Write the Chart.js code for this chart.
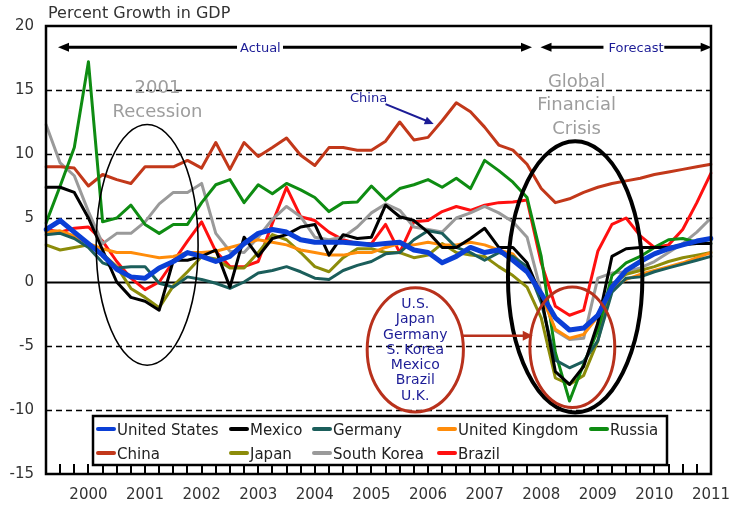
<!DOCTYPE html>
<html>
<head>
<meta charset="utf-8">
<script src="https://cdn.jsdelivr.net/npm/chart.js@4.4.1/dist/chart.umd.min.js"></script>
<style>
  body { margin: 0; background: #fff; }
  #wrap { width: 735px; height: 505px; }
</style>
</head>
<body>
<div id="wrap"><canvas id="gdpChart" width="735" height="505"></canvas></div>
<script>
// quarters on the x axis, year label shown on each Q1
const quarters = [
  "1999Q2", "1999Q3", "1999Q4",
  "2000Q1", "2000Q2", "2000Q3", "2000Q4",
  "2001Q1", "2001Q2", "2001Q3", "2001Q4",
  "2002Q1", "2002Q2", "2002Q3", "2002Q4",
  "2003Q1", "2003Q2", "2003Q3", "2003Q4",
  "2004Q1", "2004Q2", "2004Q3", "2004Q4",
  "2005Q1", "2005Q2", "2005Q3", "2005Q4",
  "2006Q1", "2006Q2", "2006Q3", "2006Q4",
  "2007Q1", "2007Q2", "2007Q3", "2007Q4",
  "2008Q1", "2008Q2", "2008Q3", "2008Q4",
  "2009Q1", "2009Q2", "2009Q3", "2009Q4",
  "2010Q1", "2010Q2", "2010Q3", "2010Q4",
  "2011Q1",
];
const yTicks = [-15, -10, -5, 0, 5, 10, 15, 20];

const unitedStates = [4.1, 4.8, 3.9, 3.0, 2.1, 1.0, 0.4, 0.3, 1.1, 1.6, 2.3, 2.0, 1.6, 2.0, 3.0, 3.8, 4.1, 3.9, 3.3, 3.1, 3.1, 3.1, 3.0, 2.9, 3.0, 3.1, 2.5, 2.3, 1.5, 2.0, 2.7, 2.3, 2.5, 1.7, 0.8, -0.9, -2.8, -3.75, -3.6, -2.6, -0.4, 0.9, 1.6, 2.2, 2.6, 2.9, 3.2, 3.4];
const mexico = [7.4, 7.4, 7.0, 5.0, 2.5, 0.0, -1.2, -1.5, -2.2, 1.7, 1.7, 2.0, 2.5, -0.4, 3.5, 2.0, 3.4, 3.7, 4.3, 4.5, 2.1, 3.7, 3.4, 3.5, 6.0, 5.1, 4.8, 3.9, 2.7, 2.7, 3.4, 4.2, 2.7, 2.7, 1.5, -1.1, -7.0, -8.0, -6.6, -3.2, 2.0, 2.6, 2.7, 2.7, 2.7, 2.9, 3.0, 3.0];
const germany = [3.7, 3.8, 3.4, 2.7, 1.5, 1.1, 1.2, 1.2, -0.1, -0.4, 0.4, 0.2, -0.1, -0.5, 0.0, 0.7, 0.9, 1.2, 0.8, 0.3, 0.2, 0.9, 1.3, 1.6, 2.2, 2.3, 3.3, 4.0, 3.8, 2.7, 2.3, 1.7, 2.3, 2.0, 1.2, -1.6, -6.1, -6.7, -6.2, -4.6, -0.8, 0.3, 0.4, 0.8, 1.1, 1.4, 1.7, 2.0];
const unitedKingdom = [3.9, 4.0, 3.6, 3.0, 2.6, 2.3, 2.3, 2.1, 1.9, 2.0, 2.3, 2.3, 2.4, 2.7, 3.0, 3.3, 3.1, 2.9, 2.5, 2.3, 2.1, 2.1, 2.3, 2.3, 2.7, 3.0, 2.9, 3.1, 2.9, 2.9, 3.1, 2.9, 2.5, 2.2, 0.8, -1.0, -3.7, -4.4, -4.1, -2.7, -0.5, 0.2, 0.6, 0.9, 1.2, 1.5, 1.9, 2.3];
const russia = [4.6, 7.5, 10.5, 17.2, 4.7, 5.0, 6.0, 4.5, 3.8, 4.5, 4.5, 6.2, 7.6, 8.0, 6.2, 7.6, 6.9, 7.7, 7.2, 6.6, 5.5, 6.2, 6.25, 7.5, 6.4, 7.3, 7.6, 8.0, 7.4, 8.1, 7.3, 9.5, 8.7, 7.8, 6.6, 2.0, -5.5, -9.3, -6.4, -3.8, 0.5, 1.5, 2.0, 2.7, 3.3, 3.4, 3.1, 3.0];
const china = [9.0, 9.0, 8.9, 7.5, 8.4, 8.0, 7.7, 9.0, 9.0, 9.0, 9.5, 8.9, 10.9, 8.8, 10.9, 9.8, 10.5, 11.25, 9.9, 9.1, 10.5, 10.5, 10.3, 10.3, 11.0, 12.5, 11.1, 11.3, 12.6, 14.0, 13.3, 12.1, 10.7, 10.3, 9.2, 7.3, 6.2, 6.5, 7.0, 7.4, 7.7, 7.9, 8.1, 8.4, 8.6, 8.8, 9.0, 9.2];
const japan = [2.9, 2.5, 2.7, 2.9, 2.2, 1.2, -0.5, -1.2, -2.0, -0.3, 0.8, 2.0, 1.8, 1.1, 1.1, 2.3, 3.7, 3.3, 2.3, 1.2, 0.8, 1.9, 2.6, 2.6, 2.3, 2.3, 1.9, 2.1, 3.0, 2.3, 2.1, 2.0, 1.2, 0.5, -0.4, -2.8, -7.5, -8.0, -7.3, -4.6, -0.2, 0.6, 0.9, 1.2, 1.6, 1.9, 2.1, 2.3];
const southKorea = [12.3, 9.3, 8.3, 5.5, 3.0, 3.8, 3.8, 4.7, 6.1, 7.0, 7.0, 7.7, 3.8, 2.4, 2.3, 3.5, 4.9, 5.9, 5.1, 3.5, 3.3, 3.5, 4.3, 5.4, 6.1, 5.6, 4.3, 4.1, 3.9, 5.0, 5.4, 5.9, 5.4, 4.7, 3.5, -0.8, -3.8, -4.5, -4.4, 0.3, 0.7, 0.8, 1.1, 1.6, 2.3, 3.0, 3.9, 5.0];
const brazil = [4.1, 3.9, 4.2, 4.3, 3.2, 1.6, 0.3, -0.6, 0.0, 1.6, 3.2, 4.7, 2.4, 1.2, 1.2, 1.6, 4.6, 7.4, 5.1, 4.8, 3.9, 3.3, 3.0, 3.0, 4.5, 2.3, 4.7, 4.8, 5.5, 5.9, 5.6, 6.0, 6.2, 6.25, 6.4, 1.5, -1.9, -2.6, -2.2, 2.4, 4.5, 5.0, 3.6, 2.7, 2.9, 4.1, 6.2, 8.5];

const seriesNames = ["United States", "Mexico", "Germany", "United Kingdom", "Russia", "China", "Japan", "South Korea", "Brazil"];
const seriesValues = [unitedStates, mexico, germany, unitedKingdom, russia, china, japan, southKorea, brazil];
const seriesColors = ["#0b3fd6", "#000000", "#1b5e5b", "#ff8c0a", "#0e8c12", "#c2381a", "#8c8c0a", "#9a9a9a", "#ff1010"];

const crisisList = ["U.S.", "Japan", "Germany", "S. Korea", "Mexico", "Brazil", "U.K."];

const FONT = "'DejaVu Sans', Arial, sans-serif";
const NAVY = "#1c1c96";
const RUST = "#b8311c";

function arrowHead(ctx, x, y, dx, dy, len, half) {
  const d = Math.hypot(dx, dy);
  const ux = dx / d, uy = dy / d;
  ctx.beginPath();
  ctx.moveTo(x, y);
  ctx.lineTo(x - ux * len - uy * half, y - uy * len + ux * half);
  ctx.lineTo(x - ux * len + uy * half, y - uy * len - ux * half);
  ctx.closePath();
  ctx.fill();
}

function ellipse(ctx, px, py, cx, cy, rx, ry, width, color) {
  const x0 = px(cx), y0 = py(cy);
  ctx.beginPath();
  ctx.ellipse(x0, y0, Math.abs(px(cx + rx) - x0), Math.abs(py(cy + ry) - y0), 0, 0, Math.PI * 2);
  ctx.lineWidth = width;
  ctx.strokeStyle = color;
  ctx.stroke();
}

const decor = {
  id: "decor",
  beforeDatasetsDraw(chart) {
    const { ctx, chartArea: a, scales: { y } } = chart;
    ctx.save();
    ctx.strokeStyle = "#000";
    y.ticks.forEach((t) => {
      if (t.value <= y.min || t.value >= y.max) return;
      const py = Math.round(y.getPixelForValue(t.value)) + 0.5;
      ctx.beginPath();
      if (t.value === 0) {
        ctx.setLineDash([]);
        ctx.lineWidth = 2;
      } else {
        ctx.setLineDash([6, 4]);
        ctx.lineWidth = 1.5;
      }
      ctx.moveTo(a.left, py);
      ctx.lineTo(a.right, py);
      ctx.stroke();
    });
    ctx.restore();
  },
  afterDatasetsDraw(chart) {
    const { ctx, chartArea: a, scales: { x, y } } = chart;
    const px = (v) => x.getPixelForValue(v);
    const py = (v) => y.getPixelForValue(v);
    ctx.save();

    // title
    ctx.fillStyle = "#333";
    ctx.font = "16px " + FONT;
    ctx.textAlign = "left";
    ctx.textBaseline = "alphabetic";
    ctx.fillText("Percent Growth in GDP", 48, 18);

    // Actual / Forecast arrows
    const ay = py(18.34);
    ctx.strokeStyle = "#000";
    ctx.fillStyle = "#000";
    ctx.lineWidth = 3;
    const segs = [[0.85, 13.5, -1], [16.75, 34.35, 1], [34.95, 39.4, -1], [43.7, 47.05, 1]];
    segs.forEach(([s, e, dir]) => {
      ctx.beginPath();
      ctx.moveTo(px(s) + (dir < 0 ? 8 : 0), ay);
      ctx.lineTo(px(e) - (dir > 0 ? 8 : 0), ay);
      ctx.stroke();
      if (dir < 0) arrowHead(ctx, px(s), ay, -1, 0, 11, 4.5);
      else arrowHead(ctx, px(e), ay, 1, 0, 11, 4.5);
    });
    ctx.fillStyle = NAVY;
    ctx.font = "13px " + FONT;
    ctx.textAlign = "center";
    ctx.fillText("Actual", px(15.15), py(18.0));
    ctx.fillText("Forecast", px(41.7), py(18.0));

    // gray event labels
    ctx.fillStyle = "#9d9d9d";
    ctx.font = "18px " + FONT;
    ctx.fillText("2001", px(7.88), py(14.77));
    ctx.fillText("Recession", px(7.88), py(12.89));
    ctx.fillText("Global", px(37.5), py(15.26));
    ctx.fillText("Financial", px(37.5), py(13.44));
    ctx.fillText("Crisis", px(37.5), py(11.56));

    // China label and arrow
    ctx.fillStyle = NAVY;
    ctx.font = "13px " + FONT;
    ctx.fillText("China", px(22.8), py(14.06));
    ctx.strokeStyle = NAVY;
    ctx.lineWidth = 2;
    ctx.beginPath();
    ctx.moveTo(px(24.0), py(13.9));
    ctx.lineTo(px(27.1), py(12.5));
    ctx.stroke();
    arrowHead(ctx, px(27.4), py(12.35), px(27.4) - px(24.0), py(12.35) - py(13.9), 9, 4);

    // ellipses
    ellipse(ctx, px, py, 7.15, 2.9, 3.6, 9.4, 1.6, "#000");
    ellipse(ctx, px, py, 37.4, 0.4, 4.75, 10.6, 4, "#000");
    ellipse(ctx, px, py, 37.2, -5.1, 3.0, 4.7, 3, RUST);
    ellipse(ctx, px, py, 26.1, -5.3, 3.4, 4.85, 3, RUST);

    // arrow between the two rust ellipses
    ctx.strokeStyle = RUST;
    ctx.fillStyle = RUST;
    ctx.lineWidth = 2.5;
    ctx.beginPath();
    ctx.moveTo(px(29.45), py(-4.2));
    ctx.lineTo(px(34.4) - 8, py(-4.2));
    ctx.stroke();
    arrowHead(ctx, px(34.4), py(-4.2), 1, 0, 10, 5);

    // country list
    ctx.fillStyle = NAVY;
    ctx.font = "14px " + FONT;
    const listTop = py(-2.03);
    crisisList.forEach((name, k) => {
      ctx.fillText(name, px(26.1), listTop + k * 15.3);
    });

    // frame
    ctx.strokeStyle = "#000";
    ctx.lineWidth = 2.5;
    ctx.strokeRect(a.left, a.top, a.right - a.left, a.bottom - a.top);

    // quarter tick marks pointing inward
    ctx.lineWidth = 2;
    x.ticks.forEach((t, i) => {
      const tx = Math.round(x.getPixelForTick(i));
      ctx.beginPath();
      ctx.moveTo(tx, a.bottom);
      ctx.lineTo(tx, a.bottom - 10);
      ctx.stroke();
    });

    // legend
    const box = { l: 93, t: 416, r: 667, b: 465 };
    ctx.fillStyle = "#fff";
    ctx.fillRect(box.l, box.t, box.r - box.l, box.b - box.t);
    ctx.lineWidth = 2.5;
    ctx.strokeStyle = "#000";
    ctx.strokeRect(box.l, box.t, box.r - box.l, box.b - box.t);
    const cols = [97, 230, 313, 438, 590];
    const rows = [435, 459];
    ctx.font = "15px " + FONT;
    ctx.textAlign = "left";
    chart.data.datasets.forEach((ds, i) => {
      const cx = cols[i % 5];
      const ry = rows[Math.floor(i / 5)];
      ctx.strokeStyle = ds.borderColor;
      ctx.lineWidth = 4;
      ctx.lineCap = "round";
      ctx.beginPath();
      ctx.moveTo(cx + 1, ry - 6);
      ctx.lineTo(cx + 17, ry - 6);
      ctx.stroke();
      ctx.fillStyle = "#222";
      ctx.fillText(ds.label, cx + 20, ry);
    });
    ctx.restore();
  },
};

const ctx = document.getElementById("gdpChart").getContext("2d");
new Chart(ctx, {
  type: "line",
  data: {
    labels: quarters,
    datasets: seriesNames.map((name, i) => ({
      label: name,
      data: seriesValues[i],
      borderColor: seriesColors[i],
      backgroundColor: seriesColors[i],
      borderWidth: i === 0 ? 5 : 3,
      pointRadius: 0,
      tension: 0,
      fill: false,
    })),
  },
  options: {
    responsive: false,
    animation: false,
    layout: { padding: { top: 26, right: 24, left: 0, bottom: 0 } },
    plugins: { legend: { display: false }, tooltip: { enabled: false } },
    elements: { line: { borderJoinStyle: "round", borderCapStyle: "round" } },
    scales: {
      x: {
        type: "category",
        offset: false,
        grid: { display: false, drawTicks: false },
        border: { display: false },
        ticks: {
          autoSkip: false,
          maxRotation: 0,
          minRotation: 0,
          padding: 12,
          color: "#333",
          font: { family: FONT, size: 15 },
          callback: function (value, index) {
            const q = quarters[index];
            return q.endsWith("Q1") ? q.slice(0, 4) : "";
          },
        },
        afterFit(scale) {
          scale.height = 31;
          scale.paddingLeft = 0;
          scale.paddingRight = 0;
        },
      },
      y: {
        min: yTicks[0],
        max: yTicks[yTicks.length - 1],
        grid: { display: false, drawTicks: false },
        border: { display: false },
        afterBuildTicks(scale) {
          scale.ticks = yTicks.map((v) => ({ value: v }));
        },
        ticks: {
          padding: 12,
          color: "#333",
          font: { family: FONT, size: 15 },
        },
        afterFit(scale) {
          scale.width = 46;
          scale.paddingTop = 0;
          scale.paddingBottom = 0;
        },
      },
    },
  },
  plugins: [decor],
});
</script>
</body>
</html>
